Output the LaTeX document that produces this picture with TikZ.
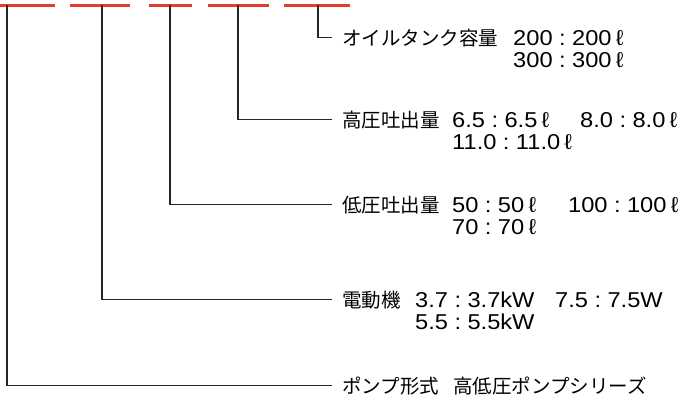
\documentclass[tikz,border=0pt]{standalone}
\usepackage{fontspec}
\setmainfont{Liberation Sans}
\newfontfamily\numfont{Liberation Sans}[FakeStretch=1.1]
\newfontfamily\jpfont{Noto Sans CJK JP}
\definecolor{barred}{RGB}{226,62,44}
\newcommand{\rt}{\hspace{0.3em}:\hspace{0.3em}}
\newcommand{\lit}{\hspace{0.2em}ℓ}

\begin{document}
\begin{tikzpicture}[x=1pt,y=-1pt,
  lead/.style={line width=1.6pt, black!85},
  redbar/.style={line width=3pt, barred},
  lbl/.style={anchor=base west, inner xsep=10pt, inner ysep=0pt,
    font=\jpfont\fontsize{19.5pt}{22pt}\selectfont},
  val/.style={anchor=base west, inner sep=0pt,
    font=\numfont\fontsize{21.5pt}{22.5pt}\selectfont}]

\useasboundingbox (0,0) rectangle (686,402);

% Code positions (red bars)
\draw[redbar] (0,5.5) -- (55,5.5);
\draw[redbar] (70,5.5) -- (130,5.5);
\draw[redbar] (149,5.5) -- (192,5.5);
\draw[redbar] (208,5.5) -- (269,5.5);
\draw[redbar] (284,5.5) -- (350,5.5);

\coordinate (pos1) at (7,5);
\coordinate (pos2) at (102,5);
\coordinate (pos3) at (170,5);
\coordinate (pos4) at (238,5);
\coordinate (pos5) at (318,5);

% Oil tank
\node[lbl] (tank) at (332,45) {オイルタンク容量};
\node[val] (tankv) at (513,45) {\begin{tabular}[t]{@{}l@{}}
  200\rt 200\lit\\ 300\rt 300\lit\end{tabular}};

% High pressure discharge
\node[lbl] (high) at (332,127) {高圧吐出量};
\node[val] (highv) at (452,127) {\begin{tabular}[t]{@{}p{128pt}@{}l@{}}
  6.5\rt 6.5\lit & 8.0\rt 8.0\lit\\ 11.0\rt 11.0\lit & \end{tabular}};

% Low pressure discharge
\node[lbl] (low) at (332,212) {低圧吐出量};
\node[val] (lowv) at (452,212) {\begin{tabular}[t]{@{}p{116pt}@{}l@{}}
  50\rt 50\lit & 100\rt 100\lit\\ 70\rt 70\lit & \end{tabular}};

% Motor
\node[lbl] (motor) at (332,307) {電動機};
\node[val] (motorv) at (415,307) {\begin{tabular}[t]{@{}p{140pt}@{}l@{}}
  3.7\rt 3.7kW & 7.5\rt 7.5W\\ 5.5\rt 5.5kW & \end{tabular}};

% Pump type
\node[lbl] (pump) at (332,393) {ポンプ形式};
\node[lbl, inner xsep=0pt] (pumpv) at (453,393) {高低圧ポンプシリーズ};

% Leaders
\draw[lead] (pos1) |- (pump.west);
\draw[lead] (pos2) |- (motor.west);
\draw[lead] (pos3) |- (low.west);
\draw[lead] (pos4) |- (high.west);
\draw[lead] (pos5) |- (tank.west);

\end{tikzpicture}
\end{document}
